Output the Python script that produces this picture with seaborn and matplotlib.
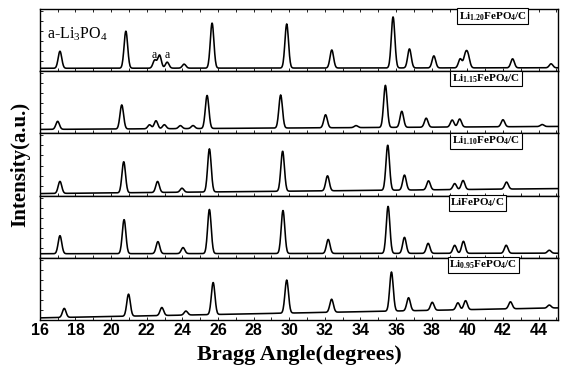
import numpy as np
import pandas as pd
import matplotlib
matplotlib.use("Agg")
import matplotlib.pyplot as plt
import seaborn as sns
from matplotlib.ticker import MultipleLocator, NullFormatter

# ---------------- data ----------------
sample_labels = [r"$\mathbf{Li_{1.20}FePO_4/C}$",
                 r"$\mathbf{Li_{1.15}FePO_4/C}$",
                 r"$\mathbf{Li_{1.10}FePO_4/C}$",
                 r"$\mathbf{LiFePO_4/C}$",
                 r"$\mathbf{Li_{0.95}FePO_4/C}$"]

# peak positions (2theta, degrees) and heights above background (a.u.)
li120_pos = [17.13, 20.83, 22.45, 22.72, 23.15, 24.1, 25.67, 29.86, 32.39, 35.83,
             36.75, 38.12, 39.6, 39.89, 40.04, 42.54, 44.7]
li120_h = [17, 37, 8, 13, 6, 4, 45, 44, 18, 51, 19, 12, 9, 12, 11, 9, 4]
li120_bg = [3, 3.5]

li115_pos = [17.0, 20.6, 22.16, 22.52, 22.99, 23.89, 24.6, 25.39, 29.52, 32.04,
             33.75, 35.4, 36.32, 37.69, 39.15, 39.57, 42.0, 44.2]
li115_h = [8, 24, 4, 8, 4, 3, 3, 33, 33, 13, 2, 42, 16, 9, 7, 8, 7, 2]
li115_bg = [4, 7]

li110_pos = [17.13, 20.71, 22.61, 23.98, 25.52, 29.63, 32.15, 35.53, 36.47, 37.82,
             39.29, 39.76, 42.2]
li110_h = [12, 31, 11, 4, 43, 40, 15, 45, 15, 9, 6, 9, 7]
li110_bg = [2, 7]

li100_pos = [17.13, 20.73, 22.63, 24.04, 25.52, 29.65, 32.19, 35.55, 36.47, 37.8,
             39.29, 39.78, 42.18, 44.6]
li100_h = [18, 34, 12, 6, 44, 43, 14, 47, 16, 10, 8, 12, 8, 3]
li100_bg = [4, 4.5]

li095_pos = [17.37, 20.98, 22.85, 24.2, 25.73, 29.86, 32.38, 35.74, 36.7, 38.03,
             39.47, 39.9, 42.42, 44.6]
li095_h = [9, 22, 8, 4, 32, 33, 13, 39, 13, 8, 7, 9, 7, 3]
li095_bg = [2, 12]

x_ticks = [16, 18, 20, 22, 24, 26, 28, 30, 32, 34, 36, 38, 40, 42, 44]

panels = [(li120_pos, li120_h, li120_bg), (li115_pos, li115_h, li115_bg),
          (li110_pos, li110_h, li110_bg), (li100_pos, li100_h, li100_bg),
          (li095_pos, li095_h, li095_bg)]

# ---------------- style ----------------
sns.set_theme(style="ticks")
plt.rcParams["font.family"] = ["Liberation Serif", "DejaVu Serif"]
plt.rcParams["mathtext.fontset"] = "custom"
plt.rcParams["mathtext.rm"] = "Liberation Serif"
plt.rcParams["mathtext.bf"] = "Liberation Serif:bold"
plt.rcParams["mathtext.it"] = "Liberation Serif:italic"
plt.rcParams["text.color"] = "black"
plt.rcParams["axes.labelcolor"] = "black"
plt.rcParams["xtick.color"] = "black"
plt.rcParams["ytick.color"] = "black"
plt.rcParams["axes.edgecolor"] = "black"

fig, axes = plt.subplots(5, 1, figsize=(5.61, 3.66), dpi=100, sharex=True)
fig.subplots_adjust(left=0.071, right=0.995, top=0.975, bottom=0.126, hspace=0)

x = np.arange(16.0, 45.2, 0.02)
sigma = 0.1
label_x = [0.808, 0.795, 0.795, 0.792, 0.79]

for i, (ax, (pos, hts, bg)) in enumerate(zip(axes, panels)):
    y = bg[0] + (bg[1] - bg[0]) * (x - x[0]) / (x[-1] - x[0])
    for p, h in zip(pos, hts):
        y = y + h * np.exp(-0.5 * ((x - p) / sigma) ** 2)
    df = pd.DataFrame({"angle": x, "intensity": y})
    sns.lineplot(data=df, x="angle", y="intensity", ax=ax, color="black",
                 linewidth=1.15, estimator=None, sort=False)
    ax.set_xlim(16, 45.1)
    ax.set_ylim(0, 62)
    ax.set_ylabel("")
    ax.set_xlabel("")
    ax.set_yticks([])
    ax.yaxis.set_minor_locator(MultipleLocator(10))
    ax.yaxis.set_minor_formatter(NullFormatter())
    ax.tick_params(axis="y", which="minor", direction="in", length=2.5, width=0.6,
                   left=True, right=False, color="black")
    ax.set_xticks(x_ticks)
    ax.xaxis.set_minor_locator(MultipleLocator(1))
    ax.tick_params(axis="x", which="both", direction="in", length=2.5, width=0.6,
                   top=(i == 0), bottom=True, color="black", labelcolor="black")
    for s in ax.spines.values():
        s.set_linewidth(1.0)
        s.set_color("black")
    ax.text(label_x[i], 0.985, sample_labels[i], transform=ax.transAxes,
            ha="left", va="top", fontsize=8, color="black",
            bbox=dict(boxstyle="square,pad=0.15", fc="white", ec="black", lw=0.8))

axes[0].text(0.013, 0.6, r"a-Li$_3$PO$_4$", transform=axes[0].transAxes,
             ha="left", va="center", fontsize=11.5, color="black")
axes[0].text(22.45, 10, "a", fontsize=8.5, ha="center", va="bottom", color="black")
axes[0].text(23.15, 10, "a", fontsize=8.5, ha="center", va="bottom", color="black")

ax = axes[-1]
ax.tick_params(axis="x", which="major", labelsize=11.5, pad=2)
for t in ax.get_xticklabels():
    t.set_fontfamily(["Liberation Sans", "DejaVu Sans"])
    t.set_fontweight("bold")
    t.set_color("black")
ax.set_xlabel("Bragg Angle(degrees)", fontsize=16, fontweight="bold", labelpad=5,
              color="black")

fig.text(0.036, 0.55, "Intensity(a.u.)", rotation=90, ha="center", va="center",
         fontsize=15, fontweight="bold", color="black")

fig.savefig("out.png", dpi=100)
